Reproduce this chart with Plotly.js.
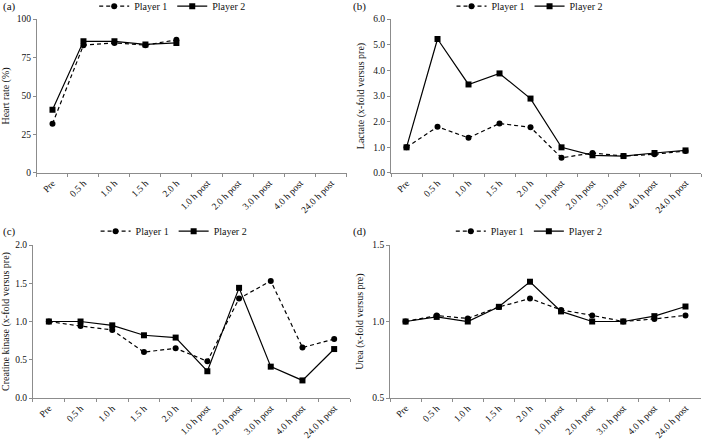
<!DOCTYPE html>
<html><head><meta charset="utf-8">
<script src="https://cdn.plot.ly/plotly-3.0.1.min.js"></script>
<style>html,body{margin:0;padding:0;background:#fff}#chart{width:702px;height:442px}</style>
</head><body><div id="chart"></div>
<script>
const categories = ["Pre","0.5 h","1.0 h","1.5 h","2.0 h","1.0 h post","2.0 h post","3.0 h post","4.0 h post","24.0 h post"];
const hrCategories = ["Pre","0.5 h","1.0 h","1.5 h","2.0 h"];
const hrP1 = [32, 83, 84.5, 83, 86.5];
const hrP2 = [41, 85.5, 85.5, 83.5, 84.5];
const lacP1 = [1.0, 1.8, 1.37, 1.93, 1.78, 0.59, 0.78, 0.66, 0.73, 0.86];
const lacP2 = [1.0, 5.22, 3.45, 3.88, 2.9, 1.0, 0.69, 0.66, 0.78, 0.88];
const ckP1 = [1.0, 0.94, 0.89, 0.60, 0.65, 0.48, 1.30, 1.53, 0.66, 0.77];
const ckP2 = [1.0, 1.0, 0.95, 0.82, 0.79, 0.35, 1.44, 0.41, 0.23, 0.64];
const ureaP1 = [1.0, 1.039, 1.02, 1.095, 1.15, 1.076, 1.04, 1.0, 1.017, 1.04];
const ureaP2 = [1.0, 1.03, 1.0, 1.096, 1.26, 1.066, 1.0, 1.0, 1.035, 1.098];
const panelLabels = ["(a)","(b)","(c)","(d)"];
const yTitles = ["Heart rate (%)","Lactate (x-fold versus pre)","Creatine kinase (x-fold versus pre)","Urea (x-fold versus pre)"];

const FONT = "Liberation Serif, Times New Roman, serif";
const axisColor = "#8c8c8c";
const textColor = "#111";

function p1(x, y, ax, lg) {
  return {x: x, y: y, xaxis: "x"+ax, yaxis: "y"+ax, legend: lg, name: "Player 1", type: "scatter", mode: "lines+markers",
    line: {color: "#000", width: 1.2, dash: "4px,3px"}, marker: {symbol: "circle", size: 6, color: "#000"}, showlegend: true};
}
function p2(x, y, ax, lg) {
  return {x: x, y: y, xaxis: "x"+ax, yaxis: "y"+ax, legend: lg, name: "Player 2", type: "scatter", mode: "lines+markers",
    line: {color: "#000", width: 1.2}, marker: {symbol: "square", size: 6, color: "#000"}, showlegend: true};
}
const data = [
  p1(hrCategories, hrP1, "", "legend"), p2(hrCategories, hrP2, "", "legend"),
  p1(categories, lacP1, "2", "legend2"), p2(categories, lacP2, "2", "legend2"),
  p1(categories, ckP1, "3", "legend3"), p2(categories, ckP2, "3", "legend3"),
  p1(categories, ureaP1, "4", "legend4"), p2(categories, ureaP2, "4", "legend4")
];

function xa(dom, anchor) {
  return {domain: dom, anchor: anchor, type: "category", categoryorder: "array", categoryarray: categories,
    range: [-0.5, 9.5], showline: true, linecolor: axisColor, linewidth: 1, ticks: "outside", tickson: "boundaries",
    ticklen: 3, tickcolor: axisColor, tickangle: -45, tickfont: {family: FONT, size: 9.5, color: textColor},
    showgrid: false, zeroline: false, fixedrange: true, automargin: false};
}
function ya(dom, anchor, range, dtick, fmt, title) {
  return {domain: dom, anchor: anchor, range: range, dtick: dtick, tick0: range[0], tickformat: fmt,
    showline: true, linecolor: axisColor, linewidth: 1, ticks: "outside", ticklen: 3, tickcolor: axisColor,
    tickfont: {family: FONT, size: 9.5, color: textColor}, showgrid: false, zeroline: false, fixedrange: true, automargin: false,
    title: {text: title, font: {family: FONT, size: 10, color: textColor}, standoff: 6}};
}
function lg(x, y) {
  return {orientation: "h", x: x, y: y, xanchor: "center", yanchor: "middle", bgcolor: "rgba(0,0,0,0)",
    font: {family: FONT, size: 10, color: textColor}, itemwidth: 30, tracegroupgap: 0};
}
const topDom = [0.6086, 0.957];
const botDom = [0.0995, 0.4457];
function panelLabel(i, x, y) {
  return {text: panelLabels[i], x: x, y: y, xref: "paper", yref: "paper", xanchor: "left", yanchor: "middle",
    showarrow: false, font: {family: FONT, size: 11, color: textColor}};
}
const layout = {
  width: 702, height: 442, margin: {l: 0, r: 0, t: 0, b: 0, autoexpand: false}, paper_bgcolor: "#fff", plot_bgcolor: "#fff",
  font: {family: FONT, color: textColor},
  xaxis: xa([0.0527, 0.494], "y"), yaxis: ya(topDom, "x", [0, 100], 25, "d", yTitles[0]),
  xaxis2: xa([0.557, 0.9986], "y2"), yaxis2: ya(topDom, "x2", [0, 6], 1, ".1f", yTitles[1]),
  xaxis3: xa([0.047, 0.4986], "y3"), yaxis3: ya(botDom, "x3", [0, 2], 0.5, ".1f", yTitles[2]),
  xaxis4: xa([0.5556, 0.9986], "y4"), yaxis4: ya(botDom, "x4", [0.5, 1.5], 0.5, ".1f", yTitles[3]),
  legend: lg(0.246, 0.986), legend2: lg(0.755, 0.986), legend3: lg(0.248, 0.477), legend4: lg(0.754, 0.477),
  annotations: [panelLabel(0, 0.002, 0.986), panelLabel(1, 0.5, 0.986), panelLabel(2, 0.002, 0.477), panelLabel(3, 0.5, 0.477)]
};
Plotly.newPlot("chart", data, layout, {displayModeBar: false, staticPlot: true});
</script>
</body></html>
